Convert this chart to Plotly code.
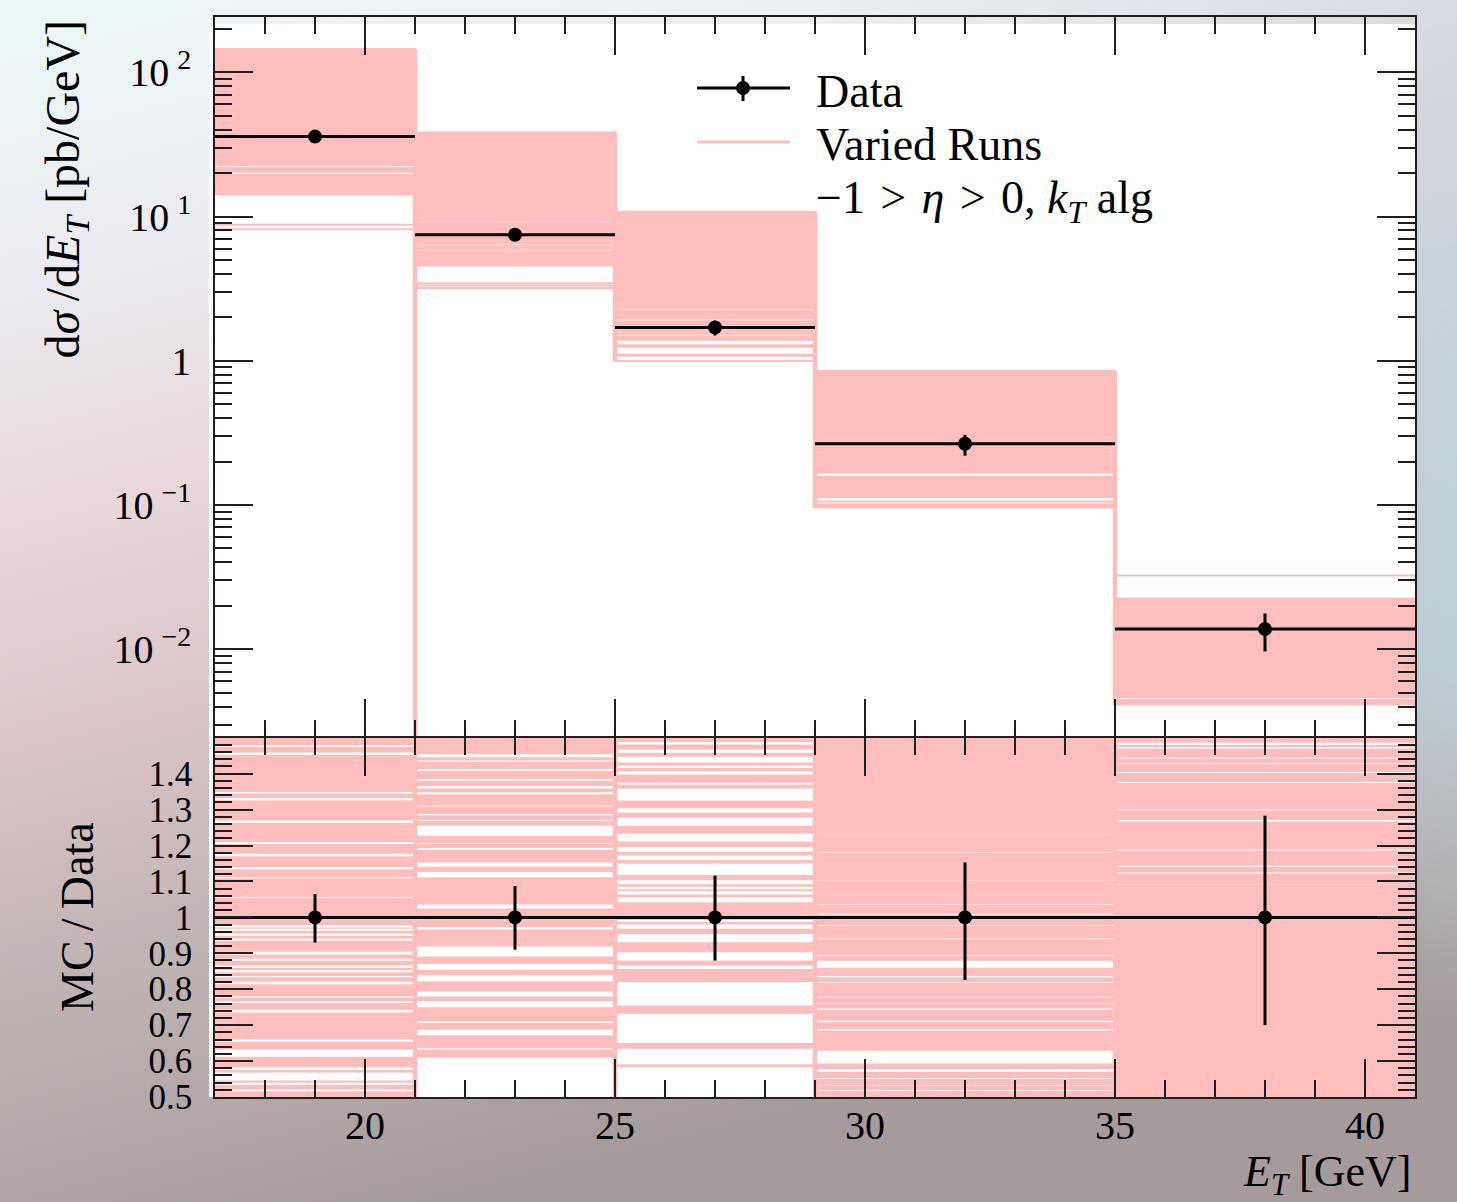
import base64
import math
import plotly.graph_objects as go

# ---------------- measurement ----------------
bin_edges = [17, 21, 25, 29, 35, 41]
et_centres = [19, 23, 27, 32, 38]
xsec = [35.8, 7.47, 1.70, 0.266, 0.0138]          # dsigma/dE_T [pb/GeV]
rel_err_up = [0.065, 0.087, 0.116, 0.153, 0.283]
rel_err_dn = [0.070, 0.090, 0.120, 0.174, 0.300]

# ---------------- varied runs (MC/Data per bin) ----------------
runs_lo = [0.394, 0.610, 0.583, 0.358, 0.298]      # lowest run of the dense envelope
runs_hi = [4.05, 5.11, 6.35, 3.21, 1.634]          # highest run of the dense envelope

# MC/Data ranges inside the envelope that no run falls into
runs_gaps_1 = [(1.475, 1.479), (1.452, 1.459), (1.345, 1.349), (1.326, 1.332),
               (1.263, 1.270), (1.204, 1.210), (1.170, 1.177), (1.134, 1.140),
               (1.109, 1.112), (1.054, 1.057), (0.972, 0.978), (0.963, 0.968),
               (0.949, 0.955), (0.935, 0.941), (0.897, 0.904), (0.879, 0.885),
               (0.859, 0.866), (0.847, 0.853), (0.833, 0.837), (0.814, 0.821),
               (0.776, 0.780), (0.762, 0.766), (0.735, 0.743), (0.654, 0.660),
               (0.612, 0.632), (0.575, 0.583), (0.546, 0.568), (0.534, 0.540),
               (0.516, 0.521)]
runs_gaps_2 = [(1.446, 1.454), (1.433, 1.437), (1.408, 1.413), (1.380, 1.385),
               (1.359, 1.366), (1.343, 1.348), (1.309, 1.311), (1.284, 1.288),
               (1.269, 1.271), (1.227, 1.255), (1.205, 1.207), (1.188, 1.193),
               (1.141, 1.153), (1.112, 1.126), (1.025, 1.036), (0.966, 0.973),
               (0.891, 0.919), (0.854, 0.870), (0.822, 0.839), (0.780, 0.794),
               (0.750, 0.767), (0.706, 0.710), (0.672, 0.688), (0.632, 0.636)]
runs_gaps_3 = [(1.481, 1.488), (1.458, 1.467), (1.431, 1.447), (1.416, 1.422),
               (1.398, 1.407), (1.370, 1.375), (1.325, 1.359), (1.292, 1.304),
               (1.255, 1.278), (1.211, 1.233), (1.183, 1.196), (1.160, 1.172),
               (1.118, 1.150), (1.092, 1.103), (1.078, 1.085), (1.064, 1.073),
               (1.042, 1.056), (0.987, 0.993), (0.968, 0.980), (0.931, 0.954),
               (0.880, 0.903), (0.856, 0.866), (0.755, 0.820), (0.650, 0.732),
               (0.591, 0.634)]
runs_gaps_4 = [(1.230, 1.231), (1.180, 1.181), (1.101, 1.102), (1.036, 1.037),
               (1.008, 1.010), (0.976, 0.978), (0.939, 0.941), (0.893, 0.895),
               (0.860, 0.879), (0.833, 0.837), (0.818, 0.820), (0.777, 0.779),
               (0.760, 0.762), (0.742, 0.746), (0.708, 0.712), (0.685, 0.689),
               (0.593, 0.629), (0.570, 0.578), (0.550, 0.552), (0.531, 0.533),
               (0.517, 0.519), (0.405, 0.425), (0.383, 0.395)]
runs_gaps_5 = [(1.480, 1.486), (1.470, 1.474), (1.442, 1.444), (1.427, 1.429),
               (1.402, 1.405), (1.374, 1.377), (1.298, 1.301), (1.267, 1.271),
               (1.186, 1.189), (1.141, 1.144), (1.122, 1.125), (1.090, 1.091),
               (0.326, 0.336)]

# single runs lying outside the dense envelope (0 = empty bin)
runs_single_1 = [0.245, 0.228, 0.0]
runs_single_2 = [0.462, 0.445, 0.428]
runs_single_3 = []
runs_single_4 = []
runs_single_5 = [2.35]

runs_gaps = [runs_gaps_1, runs_gaps_2, runs_gaps_3, runs_gaps_4, runs_gaps_5]
runs_single = [runs_single_1, runs_single_2, runs_single_3, runs_single_4, runs_single_5]

# ---------------- axes ----------------
x_range = [17, 41]
main_log_range = [-2.603, 2.383]
ratio_range = [0.5, 1.5]
main_ticks = [0.01, 0.1, 1, 10, 100]
main_ticktext = ["10\u2009<sup>−2</sup>", "10\u2009<sup>−1</sup>", "1",
                 "10\u2009<sup>1</sup>", "10\u2009<sup>2</sup>"]
ratio_ticks = [0.5, 0.6, 0.7, 0.8, 0.9, 1.0, 1.1, 1.2, 1.3, 1.4]
ratio_ticktext = ["0.5", "0.6", "0.7", "0.8", "0.9", "1", "1.1", "1.2", "1.3", "1.4"]
x_ticks = [20, 25, 30, 35, 40]

# ---------------- figure geometry ----------------
W, H = 1457, 1202
ML, MR, MT, MB = 215, 42, 17, 105
PW, PH = W - ML - MR, H - MT - MB
FRAME_LW = 1.5
# panels meet at 360 px above the bottom; shift each by half a frame line
# so that their shared border lines fall on the same pixel row
MAIN_BOTTOM = (360 + FRAME_LW / 2) / PH
RATIO_TOP = (360 - FRAME_LW / 2) / PH

PINK = "#FFBEBE"
INK = "#1e1e1e"
FONT = "Liberation Serif, DejaVu Serif, serif"
RUN_LW = 2.0                                  # width of one run line, px
RATIO_PX = (ratio_range[1] - ratio_range[0]) / 360.0   # MC/Data per pixel


def xp(px):
    return (px - ML) / PW


def yp(py):
    return (H - MB - py) / PH


def covered(lo, hi, gaps):
    segs, cur = [], lo
    for g0, g1 in sorted(gaps):
        if g0 > cur:
            segs.append((cur, g0))
        cur = max(cur, g1)
    if hi > cur:
        segs.append((cur, hi))
    return segs


fig = go.Figure()

floor_val = 10 ** main_log_range[0] * 0.5

# -------- varied runs: ratio panel --------
rx, ry = [], []
for i in range(5):
    x0, x1 = bin_edges[i], bin_edges[i + 1]
    for a, b in covered(runs_lo[i], runs_hi[i], runs_gaps[i]):
        rx += [x0, x1, x1, x0, x0, None]
        ry += [a, a, b, b, a, None]
fig.add_trace(go.Scatter(x=rx, y=ry, mode="lines", fill="toself", fillcolor=PINK,
                         line=dict(width=0, color=PINK), xaxis="x", yaxis="y",
                         hoverinfo="skip", showlegend=False))
lx, ly = [], []
for i in range(5):
    for r in runs_single[i]:
        lx += [bin_edges[i], bin_edges[i + 1], None]
        ly += [r, r, None]
fig.add_trace(go.Scatter(x=lx, y=ly, mode="lines", line=dict(width=RUN_LW, color=PINK),
                         xaxis="x", yaxis="y", hoverinfo="skip", showlegend=False))

# -------- varied runs: main panel --------
mx, my = [], []
half = RUN_LW / 2 * RATIO_PX
for i in range(5):
    x0, x1 = bin_edges[i], bin_edges[i + 1]
    for a, b in covered(runs_lo[i], runs_hi[i], runs_gaps[i]):
        a2, b2 = a + half, b - half
        if a2 > b2:
            a2 = b2 = 0.5 * (a + b)
        mx += [x0, x1, x1, x0, x0, None]
        my += [a2 * xsec[i], a2 * xsec[i], b2 * xsec[i], b2 * xsec[i], a2 * xsec[i], None]
fig.add_trace(go.Scatter(x=mx, y=my, mode="lines", fill="toself", fillcolor=PINK,
                         line=dict(width=RUN_LW, color=PINK), xaxis="x2", yaxis="y2",
                         hoverinfo="skip", showlegend=False))
sx, sy = [], []
for i in range(5):
    for r in runs_single[i]:
        if r > 0:
            sx += [bin_edges[i], bin_edges[i + 1], None]
            sy += [r * xsec[i], r * xsec[i], None]
fig.add_trace(go.Scatter(x=sx, y=sy, mode="lines", line=dict(width=RUN_LW, color=PINK),
                         xaxis="x2", yaxis="y2", hoverinfo="skip", showlegend=False))

# -------- step connectors at the inner bin edges --------
cx, cy, crx, cry = [], [], [], []
for i in range(4):
    e = bin_edges[i + 1]
    vals = []
    for j in (i, i + 1):
        vals += [runs_lo[j] * xsec[j], runs_hi[j] * xsec[j]]
        vals += [r * xsec[j] if r > 0 else floor_val for r in runs_single[j]]
    cx += [e, e, None]
    cy += [min(vals), max(vals), None]
    rvals = [runs_lo[i], runs_hi[i], runs_lo[i + 1], runs_hi[i + 1]]
    rvals += runs_single[i] + runs_single[i + 1]
    crx += [e, e, None]
    cry += [min(rvals), max(rvals), None]
fig.add_trace(go.Scatter(x=cx, y=cy, mode="lines", line=dict(width=4.5, color=PINK),
                         xaxis="x2", yaxis="y2", hoverinfo="skip", showlegend=False))
fig.add_trace(go.Scatter(x=crx, y=cry, mode="lines", line=dict(width=4.5, color=PINK),
                         xaxis="x", yaxis="y", hoverinfo="skip", showlegend=False))

# -------- data --------
half_w = [(bin_edges[i + 1] - bin_edges[i]) / 2 for i in range(5)]
fig.add_trace(go.Scatter(
    x=et_centres, y=xsec, mode="markers", xaxis="x2", yaxis="y2",
    marker=dict(size=14, color="black"),
    error_x=dict(type="data", array=half_w, width=0, thickness=3, color="black"),
    error_y=dict(type="data", symmetric=False,
                 array=[v * e for v, e in zip(xsec, rel_err_up)],
                 arrayminus=[v * e for v, e in zip(xsec, rel_err_dn)],
                 width=0, thickness=3, color="black"),
    showlegend=False, cliponaxis=True))
fig.add_trace(go.Scatter(
    x=et_centres, y=[1.0] * 5, mode="markers", xaxis="x", yaxis="y",
    marker=dict(size=14, color="black"),
    error_x=dict(type="data", array=half_w, width=0, thickness=3, color="black"),
    error_y=dict(type="data", symmetric=False, array=rel_err_up, arrayminus=rel_err_dn,
                 width=0, thickness=3, color="black"),
    showlegend=False))

# -------- axes --------
tick_common = dict(ticks="inside", ticklen=38, tickwidth=1.5, tickcolor=INK,
                   showline=True, linewidth=FRAME_LW, linecolor=INK, mirror="ticks",
                   showgrid=False, zeroline=False)
minor_x = dict(tickmode="array", tickvals=list(range(17, 42)), ticks="inside",
               ticklen=17, tickwidth=1.5, tickcolor=INK, showgrid=False)
minor_logy = [k * 10 ** n for n in range(-3, 3) for k in range(2, 10)
              if main_log_range[0] < math.log10(k * 10 ** n) < main_log_range[1]]
minor_ratio = [round(0.5 + 0.02 * k, 2) for k in range(0, 51)]

fig.update_layout(
    width=W, height=H,
    margin=dict(l=ML, r=MR, t=MT, b=MB, pad=0),
    paper_bgcolor="#c9bcbf", plot_bgcolor="rgba(0,0,0,0)",
    showlegend=False,
    xaxis=dict(domain=[0, 1], anchor="y", range=x_range, tickmode="array",
               tickvals=x_ticks, ticklabelstandoff=-8,
               tickfont=dict(family=FONT, size=40, color="black"),
               minor=minor_x, **tick_common),
    xaxis2=dict(domain=[0, 1], anchor="y2", range=x_range, matches="x",
                tickmode="array", tickvals=x_ticks, showticklabels=False,
                minor=minor_x, **tick_common),
    yaxis=dict(domain=[0, RATIO_TOP], anchor="x", range=ratio_range,
               tickmode="array", tickvals=ratio_ticks, ticktext=ratio_ticktext,
               ticklabelstandoff=14,
               tickfont=dict(family=FONT, size=35, color="black"),
               minor=dict(tickmode="array", tickvals=minor_ratio, ticks="inside",
                          ticklen=17, tickwidth=1.5, tickcolor=INK, showgrid=False),
               **tick_common),
    yaxis2=dict(domain=[MAIN_BOTTOM, 1], anchor="x2", type="log", range=main_log_range,
                tickmode="array", tickvals=main_ticks, ticktext=main_ticktext,
                ticklabelstandoff=14,
                tickfont=dict(family=FONT, size=40, color="black"),
                minor=dict(tickmode="array", tickvals=minor_logy, ticks="inside",
                           ticklen=17, tickwidth=1.5, tickcolor=INK, showgrid=False),
                **tick_common),
)

# -------- backdrop --------
bg_svg = f'''<svg xmlns="http://www.w3.org/2000/svg" width="{W}" height="{H}" viewBox="0 0 {W} {H}" preserveAspectRatio="none">
<defs>
<linearGradient id="g1" x1="0" y1="0" x2="0.3" y2="1">
<stop offset="0" stop-color="#ecf8f8"/>
<stop offset="0.22" stop-color="#ebebf1"/>
<stop offset="0.40" stop-color="#e8d7db"/>
<stop offset="0.58" stop-color="#d8c4c7"/>
<stop offset="0.78" stop-color="#bdb1b2"/>
<stop offset="1" stop-color="#a69b9c"/>
</linearGradient>
<linearGradient id="g2" x1="0" y1="0" x2="1" y2="0">
<stop offset="0.55" stop-color="#bfd3dc" stop-opacity="0"/>
<stop offset="1" stop-color="#bfd3dc" stop-opacity="0.85"/>
</linearGradient>
<linearGradient id="fade" x1="0" y1="0" x2="0" y2="1">
<stop offset="0" stop-color="#888"/>
<stop offset="0.3" stop-color="white"/>
<stop offset="0.55" stop-color="white"/>
<stop offset="0.85" stop-color="black"/>
</linearGradient>
<mask id="m"><rect width="{W}" height="{H}" fill="url(#fade)"/></mask>
</defs>
<rect width="{W}" height="{H}" fill="url(#g1)"/>
<rect width="{W}" height="{H}" fill="url(#g2)" mask="url(#m)"/>
</svg>'''
bg_uri = "data:image/svg+xml;base64," + base64.b64encode(bg_svg.encode()).decode()
fig.add_layout_image(dict(source=bg_uri, xref="paper", yref="paper",
                          x=xp(0), y=yp(0), sizex=W / PW, sizey=H / PH,
                          xanchor="left", yanchor="top", sizing="stretch",
                          layer="below"))
fig.add_shape(type="rect", xref="paper", yref="paper", x0=xp(209), x1=xp(1415),
              y0=yp(1097), y1=yp(24), fillcolor="white", line=dict(width=0),
              layer="below")

# -------- legend --------
fig.add_shape(type="line", xref="paper", yref="paper", x0=xp(697), x1=xp(790),
              y0=yp(88), y1=yp(88), line=dict(color="black", width=3))
fig.add_shape(type="line", xref="paper", yref="paper", x0=xp(743), x1=xp(743),
              y0=yp(76), y1=yp(101), line=dict(color="black", width=3))
fig.add_shape(type="circle", xref="paper", yref="paper", x0=xp(736), x1=xp(750),
              y0=yp(95), y1=yp(81), fillcolor="black", line=dict(width=0))
fig.add_shape(type="line", xref="paper", yref="paper", x0=xp(697), x1=xp(790),
              y0=yp(142), y1=yp(142), line=dict(color=PINK, width=3))
legend_font = dict(family=FONT, size=46, color="black")
fig.add_annotation(text="Data", xref="paper", yref="paper", x=xp(814), y=yp(91),
                   xanchor="left", yanchor="middle", showarrow=False, font=legend_font)
fig.add_annotation(text="Varied Runs", xref="paper", yref="paper", x=xp(814), y=yp(145),
                   xanchor="left", yanchor="middle", showarrow=False, font=legend_font)
fig.add_annotation(text="−1\u2004&gt;\u2004<i>η</i>\u2004&gt;\u20040,\u2005<i>k</i><sub><i>T</i></sub> alg",
                   xref="paper", yref="paper", x=xp(814), y=yp(201),
                   xanchor="left", yanchor="middle", showarrow=False, font=legend_font)

# -------- axis titles --------
fig.add_annotation(text="d<i>σ</i>\u2009/d<i>E</i><sub><i>T</i></sub> [pb/GeV]", textangle=-90,
                   xref="paper", yref="paper", x=xp(66), y=yp(18),
                   xanchor="center", yanchor="top", showarrow=False,
                   font=dict(family=FONT, size=48, color="black"))
fig.add_annotation(text="MC\u2009/\u2009Data", textangle=-90,
                   xref="paper", yref="paper", x=xp(77), y=yp(917),
                   xanchor="center", yanchor="middle", showarrow=False,
                   font=dict(family=FONT, size=46, color="black"))
fig.add_annotation(text="<i>E</i><sub><i>T</i></sub> [GeV]",
                   xref="paper", yref="paper", x=xp(1413), y=yp(1174.5),
                   xanchor="right", yanchor="middle", showarrow=False,
                   font=dict(family=FONT, size=44, color="black"))

fig.write_html("out.html")
